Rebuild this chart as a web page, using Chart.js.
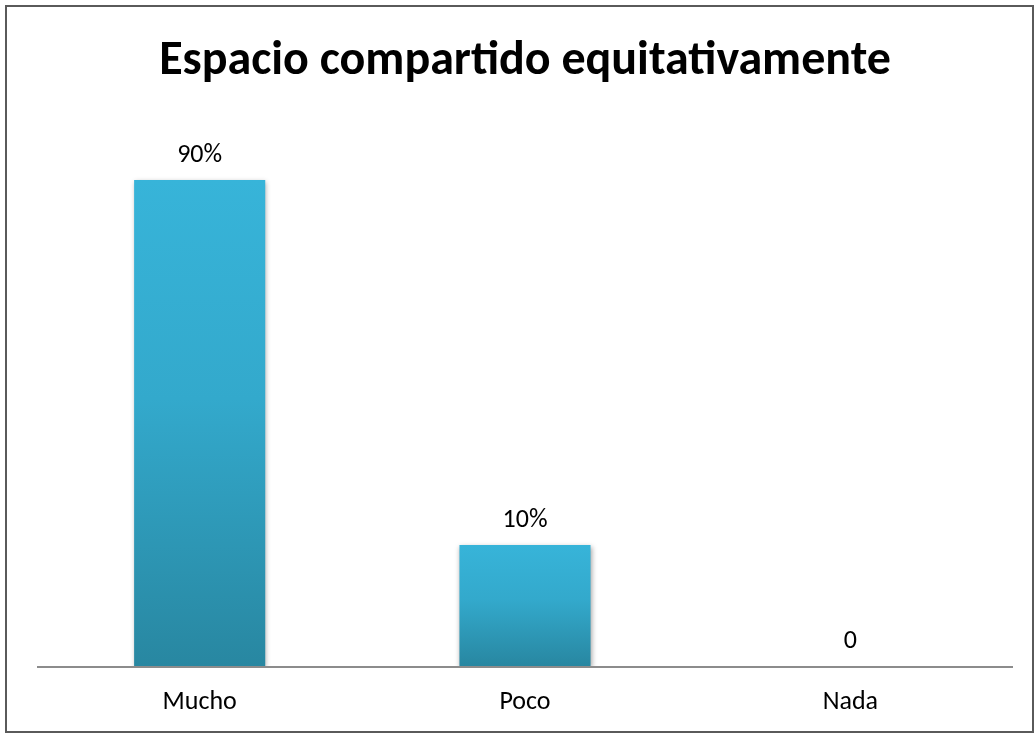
<!DOCTYPE html>
<html lang="es">
<head>
  <meta charset="UTF-8" />
  <title>Espacio compartido equitativamente</title>
  <script src="https://cdn.jsdelivr.net/npm/chart.js@4.4.0/dist/chart.umd.min.js"></script>
  <style>
    html, body { margin: 0; padding: 0; background: #fff; }
    #wrap { width: 1035px; height: 734px; position: relative; }
  </style>
</head>
<body>
  <div id="wrap"><canvas id="chart"></canvas></div>

  <script>
    // ---- data ---------------------------------------------------------
    const categories = ['Mucho', 'Poco', 'Nada'];
    // bar heights as drawn in the picture (scale 0-100)
    const barValues  = [90, 22.4, 0];
    // value labels printed above the bars
    const valueLabels = ['90%', '10%', '0'];

    const FONT = 'Calibri, "Open Sans", "Noto Sans", sans-serif';

    // gradient per bar, light on top, darker at the base
    function barFill(ctx) {
      const chart = ctx.chart;
      const area = chart.chartArea;
      if (!area || ctx.parsed == null) return '#34afd4';
      const y = chart.scales.y;
      const top = y.getPixelForValue(ctx.parsed.y);
      const base = y.getPixelForValue(0);
      if (base - top < 1) return '#34afd4';
      const g = chart.ctx.createLinearGradient(0, top, 0, base);
      g.addColorStop(0, '#37b4d9');
      g.addColorStop(0.45, '#33a9cc');
      g.addColorStop(1, '#2887a1');
      return g;
    }

    const extras = {
      id: 'extras',
      beforeDatasetsDraw(chart) {
        const c = chart.ctx;
        c.save();
        c.shadowColor = 'rgba(0,0,0,0.35)';
        c.shadowBlur = 5;
        c.shadowOffsetX = 1;
        c.shadowOffsetY = 2;
      },
      afterDatasetsDraw(chart) {
        const c = chart.ctx;
        c.restore();
        const a = chart.chartArea;
        // axis line
        c.save();
        c.strokeStyle = '#8c8c8c';
        c.lineWidth = 2;
        c.beginPath();
        c.moveTo(a.left, a.bottom + 1);
        c.lineTo(a.right, a.bottom + 1);
        c.stroke();
        // value labels
        c.fillStyle = '#000';
        c.font = '26px ' + FONT;
        c.textAlign = 'center';
        c.textBaseline = 'middle';
        chart.getDatasetMeta(0).data.forEach((bar, i) => {
          c.fillText(valueLabels[i], bar.x, bar.y - 25);
        });
        c.restore();
      },
      afterDraw(chart) {
        const c = chart.ctx;
        c.save();
        c.strokeStyle = '#5a5a5a';
        c.lineWidth = 2;
        c.strokeRect(6, 6, 1027, 726);
        c.restore();
      }
    };

    new Chart(document.getElementById('chart'), {
      type: 'bar',
      data: {
        labels: categories,
        datasets: [{
          data: barValues,
          backgroundColor: barFill,
          borderWidth: 0,
          categoryPercentage: 1,
          barPercentage: 0.403
        }]
      },
      options: {
        responsive: true,
        maintainAspectRatio: false,
        animation: false,
        layout: { padding: { left: 37, right: 22, top: 0, bottom: 0 } },
        scales: {
          y: { display: false, min: 0, max: 100 },
          x: {
            grid: { display: false, drawTicks: false },
            border: { display: false },
            ticks: { color: '#000', font: { family: FONT, size: 26 }, padding: 21 },
            afterFit(s) { s.height = 68; }
          }
        },
        plugins: {
          legend: { display: false },
          tooltip: { enabled: false },
          title: {
            display: true,
            text: 'Espacio compartido equitativamente',
            color: '#000',
            font: { family: FONT, size: 48, weight: 'bold', lineHeight: 1.2 },
            padding: { top: 33, bottom: 35.4 }
          }
        }
      },
      plugins: [extras]
    });
  </script>
</body>
</html>
